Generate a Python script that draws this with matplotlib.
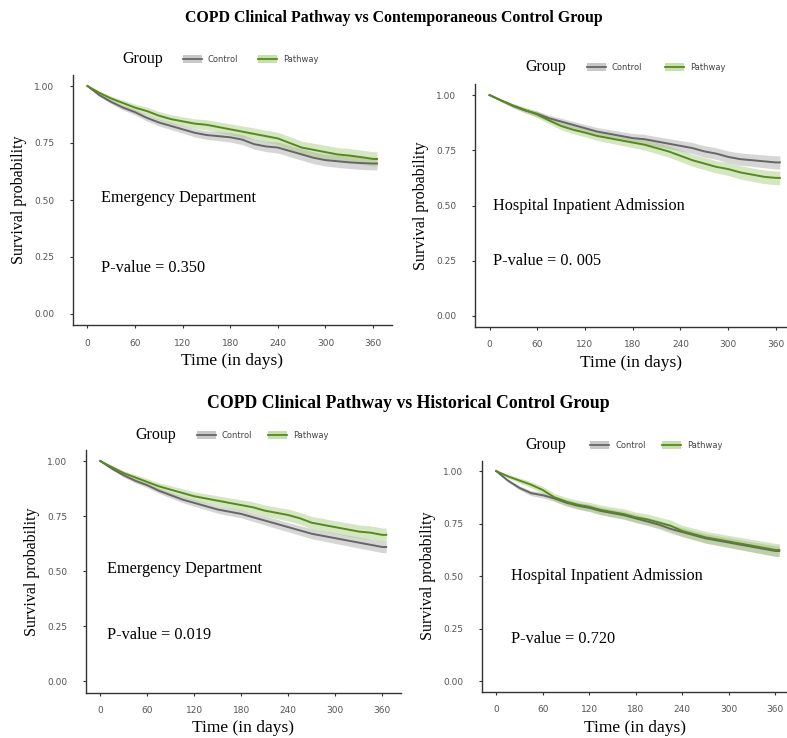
import matplotlib
matplotlib.use("Agg")
import matplotlib.pyplot as plt
from matplotlib.patches import Rectangle
from matplotlib.lines import Line2D
import numpy as np

# ---- data ----
days = [0, 15, 30, 45, 60, 75, 90, 105, 120, 135, 150, 165, 180,
        195, 210, 225, 240, 255, 270, 285, 300, 315, 330, 345, 360, 365]

# top left: emergency department, contemporaneous control
ed_cont_control = [1.00, 0.96, 0.93, 0.905, 0.885, 0.86, 0.84, 0.825, 0.81, 0.795, 0.785, 0.78, 0.775,
                   0.765, 0.745, 0.735, 0.73, 0.715, 0.70, 0.685, 0.675, 0.67, 0.665, 0.662, 0.66, 0.66]
ed_cont_pathway = [1.00, 0.97, 0.945, 0.925, 0.905, 0.89, 0.87, 0.855, 0.845, 0.835, 0.83, 0.82, 0.81,
                   0.80, 0.79, 0.78, 0.77, 0.75, 0.73, 0.72, 0.71, 0.70, 0.695, 0.688, 0.68, 0.68]
ed_cont_control_hw = [0.0, 0.006, 0.009, 0.011, 0.012, 0.014, 0.015, 0.016, 0.017, 0.018, 0.019, 0.02, 0.021,
                      0.022, 0.022, 0.023, 0.024, 0.025, 0.025, 0.026, 0.026, 0.027, 0.027, 0.028, 0.028, 0.028]
ed_cont_pathway_hw = [0.0, 0.007, 0.01, 0.013, 0.015, 0.017, 0.018, 0.019, 0.02, 0.021, 0.022, 0.023, 0.024,
                      0.025, 0.026, 0.026, 0.027, 0.028, 0.028, 0.029, 0.03, 0.03, 0.031, 0.031, 0.032, 0.032]

# top right: hospital inpatient admission, contemporaneous control
hia_cont_control = [1.00, 0.975, 0.95, 0.93, 0.915, 0.895, 0.88, 0.865, 0.85, 0.835, 0.825, 0.815, 0.805,
                    0.80, 0.79, 0.78, 0.77, 0.76, 0.745, 0.735, 0.72, 0.71, 0.705, 0.70, 0.695, 0.695]
hia_cont_pathway = [1.00, 0.975, 0.952, 0.932, 0.912, 0.885, 0.86, 0.843, 0.83, 0.815, 0.805, 0.795, 0.785,
                    0.775, 0.76, 0.745, 0.725, 0.705, 0.69, 0.675, 0.665, 0.65, 0.64, 0.63, 0.625, 0.625]
hia_cont_control_hw = [0.0, 0.006, 0.009, 0.011, 0.013, 0.014, 0.015, 0.016, 0.017, 0.018, 0.019, 0.02, 0.021,
                       0.022, 0.022, 0.023, 0.024, 0.025, 0.026, 0.026, 0.027, 0.028, 0.028, 0.029, 0.03, 0.03]
hia_cont_pathway_hw = [0.0, 0.006, 0.009, 0.012, 0.014, 0.015, 0.017, 0.018, 0.019, 0.02, 0.021, 0.022, 0.023,
                       0.024, 0.025, 0.026, 0.026, 0.027, 0.028, 0.028, 0.029, 0.03, 0.03, 0.031, 0.031, 0.031]

# bottom left: emergency department, historical control
ed_hist_control = [1.00, 0.965, 0.935, 0.91, 0.89, 0.865, 0.845, 0.825, 0.81, 0.795, 0.78, 0.77, 0.76,
                   0.745, 0.73, 0.715, 0.70, 0.685, 0.67, 0.66, 0.65, 0.64, 0.63, 0.62, 0.61, 0.61]
ed_hist_pathway = [1.00, 0.972, 0.945, 0.925, 0.905, 0.885, 0.87, 0.855, 0.84, 0.83, 0.82, 0.81, 0.80,
                   0.79, 0.775, 0.765, 0.755, 0.74, 0.72, 0.71, 0.70, 0.69, 0.68, 0.675, 0.665, 0.665]
ed_hist_control_hw = [0.0, 0.005, 0.008, 0.01, 0.011, 0.012, 0.013, 0.014, 0.015, 0.016, 0.017, 0.018, 0.018,
                      0.019, 0.02, 0.021, 0.021, 0.022, 0.023, 0.023, 0.024, 0.024, 0.025, 0.025, 0.026, 0.026]
ed_hist_pathway_hw = [0.0, 0.007, 0.01, 0.013, 0.015, 0.016, 0.018, 0.019, 0.02, 0.021, 0.022, 0.023, 0.024,
                      0.025, 0.025, 0.026, 0.027, 0.027, 0.028, 0.029, 0.029, 0.03, 0.03, 0.031, 0.031, 0.031]

# bottom right: hospital inpatient admission, historical control
hia_hist_control = [1.00, 0.955, 0.92, 0.895, 0.885, 0.87, 0.85, 0.835, 0.825, 0.81, 0.80, 0.79, 0.775,
                    0.76, 0.745, 0.725, 0.71, 0.695, 0.68, 0.67, 0.66, 0.65, 0.64, 0.63, 0.62, 0.62]
hia_hist_pathway = [1.00, 0.975, 0.955, 0.935, 0.91, 0.875, 0.855, 0.84, 0.83, 0.815, 0.805, 0.795, 0.78,
                    0.77, 0.755, 0.74, 0.715, 0.70, 0.685, 0.675, 0.665, 0.655, 0.645, 0.635, 0.625, 0.625]
hia_hist_control_hw = [0.0, 0.007, 0.01, 0.012, 0.013, 0.014, 0.015, 0.016, 0.017, 0.017, 0.018, 0.018, 0.019,
                       0.019, 0.02, 0.02, 0.021, 0.021, 0.022, 0.022, 0.023, 0.023, 0.024, 0.024, 0.025, 0.025]
hia_hist_pathway_hw = [0.0, 0.008, 0.012, 0.015, 0.017, 0.019, 0.02, 0.021, 0.022, 0.023, 0.024, 0.025, 0.025,
                       0.026, 0.026, 0.027, 0.027, 0.028, 0.028, 0.029, 0.029, 0.03, 0.03, 0.031, 0.031, 0.031]

xticks = [0, 60, 120, 180, 240, 300, 360]
yticks = [0.0, 0.25, 0.5, 0.75, 1.0]
ytick_labels = ["0.00", "0.25", "0.50", "0.75", "1.00"]
groups = ["Control", "Pathway"]
titles = ["COPD Clinical Pathway vs Contemporaneous Control Group",
          "COPD Clinical Pathway vs Historical Control Group"]
outcomes = ["Emergency Department", "Hospital Inpatient Admission",
            "Emergency Department", "Hospital Inpatient Admission"]
pvalues = ["P-value = 0.350", "P-value = 0. 005", "P-value = 0.019", "P-value = 0.720"]

line_cols = {"Control": "#666666", "Pathway": "#568a1c"}
band_cols = {"Control": "#a6a6a6", "Pathway": "#a3c878"}

W, H = 787, 738
fig = plt.figure(figsize=(W / 100, H / 100), dpi=100)
serif = "Liberation Serif"


def px_axes(left, top, right, bottom):
    return fig.add_axes([left / W, 1 - bottom / H, (right - left) / W, (bottom - top) / H])


def km_panel(ax, ctrl, path, ctrl_hw, path_hw, xmax):
    for name, s, hw in (("Control", ctrl, ctrl_hw), ("Pathway", path, path_hw)):
        s = np.array(s)
        hw = np.array(hw)
        ax.fill_between(days, s - hw, s + hw, color=band_cols[name],
                        alpha=0.45, linewidth=0)
        ax.plot(days, s, color=line_cols[name], linewidth=1.4)
    ax.set_xlim(-18.25, xmax)
    ax.set_ylim(-0.05, 1.05)
    ax.set_xticks(xticks)
    ax.set_yticks(yticks)
    ax.set_yticklabels(ytick_labels)
    for side in ("top", "right"):
        ax.spines[side].set_visible(False)
    for side in ("left", "bottom"):
        ax.spines[side].set_color("#333333")
        ax.spines[side].set_linewidth(1.0)
    ax.tick_params(axis="both", length=2.5, width=0.8, color="#333333",
                   labelsize=6.5, labelcolor="#555555")
    ax.tick_params(axis="y", pad=11)
    ax.tick_params(axis="x", pad=7)
    ax.set_xlabel("Time (in days)", fontfamily=serif, fontsize=12.5, labelpad=4)
    ax.set_ylabel("Survival probability", fontfamily=serif, fontsize=11.5, labelpad=5)


def legend_px(group_x, y, key1_x, key2_x):
    fig.text(group_x / W, 1 - y / H, "Group", fontfamily=serif, fontsize=11.5,
             ha="left", va="center")
    for name, kx in (("Control", key1_x), ("Pathway", key2_x)):
        fig.add_artist(Rectangle((kx / W, 1 - (y + 4) / H), 19 / W, 8 / H,
                                 transform=fig.transFigure, facecolor=band_cols[name],
                                 alpha=0.6, edgecolor="none"))
        fig.add_artist(Line2D([kx / W, (kx + 19) / W], [1 - y / H, 1 - y / H],
                              transform=fig.transFigure, color=line_cols[name], linewidth=1.3))
        fig.text((kx + 25) / W, 1 - y / H, name, fontsize=6, color="#444444",
                 ha="left", va="center")


panels = [
    (px_axes(73, 74.6, 391.5, 325.4), ed_cont_control, ed_cont_pathway,
     ed_cont_control_hw, ed_cont_pathway_hw, 383.25),
    (px_axes(475, 84, 787, 327), hia_cont_control, hia_cont_pathway,
     hia_cont_control_hw, hia_cont_pathway_hw, 374),
    (px_axes(86, 450, 400.5, 692.5), ed_hist_control, ed_hist_pathway,
     ed_hist_control_hw, ed_hist_pathway_hw, 383.25),
    (px_axes(482, 460.5, 787, 692), hia_hist_control, hia_hist_pathway,
     hia_hist_control_hw, hia_hist_pathway_hw, 375),
]
for ax, c, p, chw, phw, xm in panels:
    km_panel(ax, c, p, chw, phw, xm)

# outcome names and p-values, placed in data coords
text_pos = [(17, 0.51, 0.20), (4, 0.50, 0.25), (9, 0.51, 0.21), (19, 0.50, 0.20)]
for (ax, *_), name, pv, (tx, ty1, ty2) in zip(panels, outcomes, pvalues, text_pos):
    ax.text(tx, ty1, name, fontfamily=serif, fontsize=11.7, ha="left", va="center")
    ax.text(tx, ty2, pv, fontfamily=serif, fontsize=11.7, ha="left", va="center")

fig.text(394 / W, 1 - 18 / H, titles[0], fontfamily=serif, fontweight="bold",
         fontsize=11.4, ha="center", va="center")
fig.text(408 / W, 1 - 404 / H, titles[1], fontfamily=serif, fontweight="bold",
         fontsize=12.8, ha="center", va="center")

legend_px(122, 59, 183, 258)
legend_px(525, 67, 587, 665)
legend_px(135, 435, 197, 268)
legend_px(525, 445, 590, 662)

fig.savefig("out.png", dpi=100)
